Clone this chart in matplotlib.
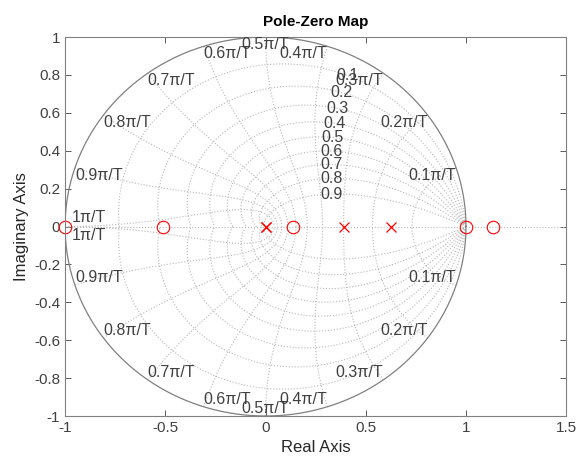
import matplotlib
matplotlib.use("Agg")
import matplotlib.pyplot as plt
import numpy as np

plt.rcParams['font.family'] = ['Liberation Sans', 'DejaVu Sans']

# pole / zero locations (real parts, all on the real axis)
zero_re = [-1.0, -0.51, 0.135, 1.0, 1.133]
pole_re = [0.0, 0.0, 0.39, 0.625]

# z-grid settings
zetas = [0.1, 0.2, 0.3, 0.4, 0.5, 0.6, 0.7, 0.8, 0.9]
wn_k = [1, 2, 3, 4, 5, 6, 7, 8, 9, 10]          # wn = k*pi/(10T)
zeta_label_wn = 1.1                              # where the zeta labels sit

xticks = [-1, -0.5, 0, 0.5, 1, 1.5]
yticks = np.round(np.arange(-1, 1.01, 0.2), 1) + 0.0

grid_col = '#b8b8b8'
text_col = '#404040'
fs = 11.5

fig = plt.figure(figsize=(5.76, 4.69), dpi=100)
ax = fig.add_axes([0.113, 0.113, 0.870, 0.808])

# constant damping curves
for z in zetas:
    wt = np.linspace(0, np.pi / np.sqrt(1 - z**2), 300)
    pts = np.exp(-z * wt) * np.exp(1j * wt * np.sqrt(1 - z**2))
    ax.plot(pts.real, pts.imag, ls=':', color=grid_col, lw=0.8)
    ax.plot(pts.real, -pts.imag, ls=':', color=grid_col, lw=0.8)
    p = np.exp(-z * zeta_label_wn) * np.exp(1j * zeta_label_wn * np.sqrt(1 - z**2))
    ax.text(p.real, p.imag, f'{z:g}', ha='center', va='center',
            fontsize=fs, color=text_col)

# constant natural frequency curves
zz = np.linspace(0, 1, 200)
for k in wn_k:
    w = k * np.pi / 10
    pts = np.exp(-zz * w) * np.exp(1j * w * np.sqrt(1 - zz**2))
    ax.plot(pts.real, pts.imag, ls=':', color=grid_col, lw=0.8)
    ax.plot(pts.real, -pts.imag, ls=':', color=grid_col, lw=0.8)
    lab = f'{k / 10:g}π/T'
    cx, cy = np.cos(w), np.sin(w)
    if k == 10:
        ax.annotate(lab, (cx, 0), xytext=(5, 1), textcoords='offset points',
                    ha='left', va='bottom', fontsize=fs, color=text_col)
        ax.annotate(lab, (cx, 0), xytext=(5, -1), textcoords='offset points',
                    ha='left', va='top', fontsize=fs, color=text_col)
        continue
    ha = 'right' if cx > 0.01 else ('left' if cx < -0.01 else 'center')
    ax.text(cx, cy, lab, ha=ha, va='top', fontsize=fs, color=text_col)
    ax.text(cx, -cy, lab, ha=ha, va='bottom', fontsize=fs, color=text_col)

# unit circle and real axis
th = np.linspace(0, 2 * np.pi, 400)
ax.plot(np.cos(th), np.sin(th), color='#808080', lw=0.9)
ax.axhline(0, ls=':', color=grid_col, lw=0.8)

# poles and zeros
ax.plot(zero_re, np.zeros(len(zero_re)), 'o', mfc='none', mec='red',
        ms=9, mew=0.8, ls='none', clip_on=False)
ax.plot(pole_re, np.zeros(len(pole_re)), 'x', color='red',
        ms=7.5, mew=0.9, ls='none', clip_on=False)

ax.set_xlim(-1, 1.5)
ax.set_ylim(-1, 1)
ax.set_xticks(xticks)
ax.set_xticklabels([f'{v:g}' for v in xticks])
ax.set_yticks(yticks)
ax.set_yticklabels([f'{v:g}' for v in yticks])
ax.tick_params(direction='in', top=True, right=True, labelsize=11,
               colors=text_col, length=4, width=0.6)
for s in ax.spines.values():
    s.set_color('#808080')
    s.set_linewidth(0.8)

ax.set_title('Pole-Zero Map', fontsize=11, fontweight='bold', color='black', pad=8)
ax.set_xlabel('Real Axis', fontsize=12, color='#262626')
ax.set_ylabel('Imaginary Axis', fontsize=12, color='#262626')

fig.savefig('out.png', dpi=100)
